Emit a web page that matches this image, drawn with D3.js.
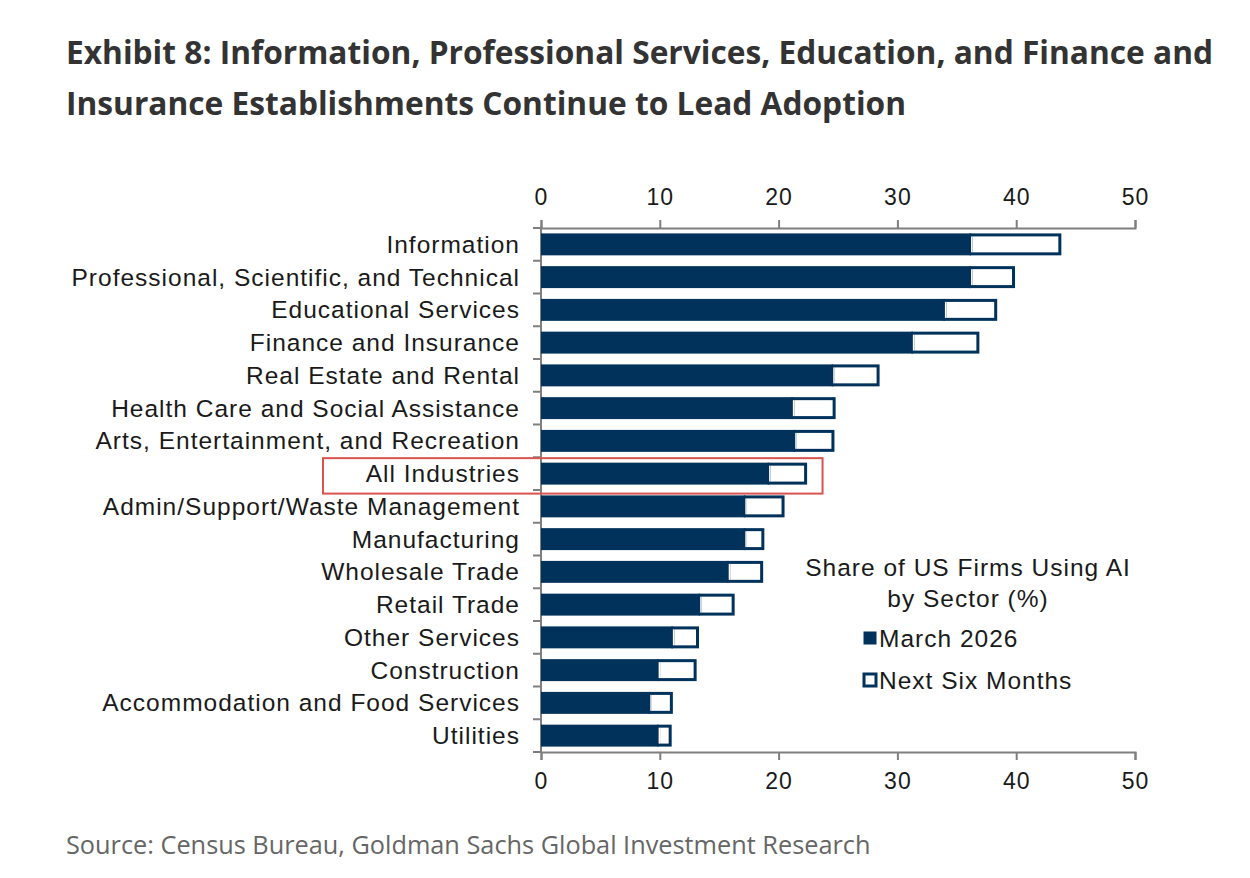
<!DOCTYPE html>
<html>
<head>
<meta charset="utf-8">
<script src="https://cdn.jsdelivr.net/npm/d3@7"></script>
<style>
  body { margin: 0; background: #fff; }
  .title { font-family: "Open Sans", sans-serif; font-weight: 700; fill: #333; }
  .source { font-family: "Open Sans", sans-serif; fill: #666; }
  .lbl { font-family: "Liberation Sans", Arial, sans-serif; fill: #1a1a1a; letter-spacing: 1px; }
</style>
</head>
<body>
<div id="chart"></div>
<script>
// data
var sectors = [
  "Information",
  "Professional, Scientific, and Technical",
  "Educational Services",
  "Finance and Insurance",
  "Real Estate and Rental",
  "Health Care and Social Assistance",
  "Arts, Entertainment, and Recreation",
  "All Industries",
  "Admin/Support/Waste Management",
  "Manufacturing",
  "Wholesale Trade",
  "Retail Trade",
  "Other Services",
  "Construction",
  "Accommodation and Food Services",
  "Utilities"
];
var march2026 = [36.2, 36.2, 34.0, 31.3, 24.6, 21.2, 21.4, 19.2, 17.2, 17.2, 15.8, 13.4, 11.1, 9.9, 9.2, 9.9];
var nextSixMonths = [43.8, 39.9, 38.4, 36.9, 28.5, 24.8, 24.7, 22.4, 20.5, 18.8, 18.7, 16.3, 13.3, 13.1, 11.1, 11.0];
var xTicks = [0, 10, 20, 30, 40, 50];
var legendTitle = ["Share of US Firms Using AI", "by Sector (%)"];
var seriesNames = ["March 2026", "Next Six Months"];

var navy = "#00325b";
var axisGray = "#7f7f7f";

var svgWidth = 1250, svgHeight = 878;
var margin = { top: 228, right: 115, bottom: 126, left: 541 };
var width = svgWidth - margin.left - margin.right;
var height = svgHeight - margin.top - margin.bottom;

var svg = d3.select("#chart").append("svg")
  .attr("width", svgWidth)
  .attr("height", svgHeight);

// title + source
svg.append("text").attr("class", "title")
  .attr("x", 66).attr("y", 64).attr("font-size", 31.7)
  .text("Exhibit 8: Information, Professional Services, Education, and Finance and");
svg.append("text").attr("class", "title")
  .attr("x", 66).attr("y", 115).attr("font-size", 31.7)
  .text("Insurance Establishments Continue to Lead Adoption");
svg.append("text").attr("class", "source")
  .attr("x", 66).attr("y", 854).attr("font-size", 25.3)
  .text("Source: Census Bureau, Goldman Sachs Global Investment Research");

var chartGroup = svg.append("g")
  .attr("transform", `translate(${margin.left}, ${margin.top})`);

var rows = sectors.map(function(s, i) {
  return { sector: s, march: march2026[i], next: nextSixMonths[i] };
});

var xScale = d3.scaleLinear().domain([0, 50]).range([0, width]);
var yScale = d3.scaleBand().domain(sectors).range([0, height]).paddingInner(0.33).paddingOuter(0.165);

// axes
var topAxis = d3.axisTop(xScale).tickValues(xTicks).tickSize(8).tickPadding(15);
var bottomAxis = d3.axisBottom(xScale).tickValues(xTicks).tickSize(8).tickPadding(13);

function styleAxis(g) {
  g.select(".domain").attr("stroke", axisGray).attr("stroke-width", 2);
  g.selectAll(".tick line").attr("stroke", axisGray).attr("stroke-width", 2);
  g.selectAll("text").attr("font-size", 23).attr("fill", "#1a1a1a")
    .attr("font-family", "Liberation Sans, Arial, sans-serif")
    .style("letter-spacing", "1px");
}
chartGroup.append("g").call(topAxis).call(styleAxis);
chartGroup.append("g")
  .attr("transform", `translate(0, ${height})`)
  .call(bottomAxis).call(styleAxis);

// left axis line + ticks at band boundaries
var bounds = d3.range(sectors.length + 1).map(function(i) { return i * height / sectors.length; });
chartGroup.append("line")
  .attr("x1", 0).attr("x2", 0).attr("y1", 0).attr("y2", height)
  .attr("stroke", axisGray).attr("stroke-width", 2);
chartGroup.selectAll(".ytick").data(bounds).enter().append("line")
  .attr("class", "ytick")
  .attr("x1", -8).attr("x2", 0)
  .attr("y1", function(d) { return d; }).attr("y2", function(d) { return d; })
  .attr("stroke", axisGray).attr("stroke-width", 2);

// category labels
chartGroup.selectAll(".cat").data(rows).enter().append("text")
  .attr("class", "lbl cat")
  .attr("x", -21)
  .attr("y", function(d) { return yScale(d.sector) + yScale.bandwidth() / 2; })
  .attr("dy", "0.35em")
  .attr("text-anchor", "end")
  .attr("font-size", 24.5)
  .text(function(d) { return d.sector; });

var bh = yScale.bandwidth();

// march bars (solid)
chartGroup.selectAll(".bar-march").data(rows).enter().append("rect")
  .attr("class", "bar-march")
  .attr("x", 0)
  .attr("y", function(d) { return yScale(d.sector); })
  .attr("width", function(d) { return xScale(d.march); })
  .attr("height", bh)
  .attr("fill", navy);

// next six months (hollow part beyond march)
chartGroup.selectAll(".bar-next").data(rows).enter().append("rect")
  .attr("class", "bar-next")
  .attr("x", function(d) { return xScale(d.march); })
  .attr("y", function(d) { return yScale(d.sector) + 1.5; })
  .attr("width", function(d) { return xScale(d.next) - xScale(d.march) - 1.5; })
  .attr("height", bh - 3)
  .attr("fill", "#fff")
  .attr("stroke", navy)
  .attr("stroke-width", 3);
// open the left side so the white meets the solid bar
chartGroup.selectAll(".bar-gap").data(rows).enter().append("rect")
  .attr("class", "bar-gap")
  .attr("x", function(d) { return xScale(d.march); })
  .attr("y", function(d) { return yScale(d.sector) + 3; })
  .attr("width", 1.5)
  .attr("height", bh - 6)
  .attr("fill", "#fff");

// highlight box around All Industries
var allY = yScale("All Industries");
chartGroup.append("rect")
  .attr("x", -218)
  .attr("y", allY - 4.5)
  .attr("width", 218 + xScale(23.7))
  .attr("height", bh + 13.5)
  .attr("fill", "none")
  .attr("stroke", "#d9534f")
  .attr("stroke-width", 2);

// legend
var legend = chartGroup.append("g").attr("transform", "translate(427, 339)");
legend.selectAll(".lt").data(legendTitle).enter().append("text")
  .attr("class", "lbl")
  .attr("x", 0)
  .attr("y", function(d, i) { return i * 31; })
  .attr("dy", "0.35em")
  .attr("text-anchor", "middle")
  .attr("font-size", 24.5)
  .text(function(d) { return d; });

var items = legend.selectAll(".li").data(seriesNames).enter().append("g")
  .attr("transform", function(d, i) { return `translate(-105, ${71 + i * 42})`; });
items.append("rect")
  .attr("x", 1).attr("y", -6).attr("width", 12).attr("height", 12)
  .attr("fill", function(d, i) { return i === 0 ? navy : "#fff"; })
  .attr("stroke", navy).attr("stroke-width", function(d, i) { return i === 0 ? 1 : 3; });
items.append("text")
  .attr("class", "lbl")
  .attr("x", 16).attr("y", 0).attr("dy", "0.35em")
  .attr("font-size", 24.5)
  .text(function(d) { return d; });
</script>
</body>
</html>
